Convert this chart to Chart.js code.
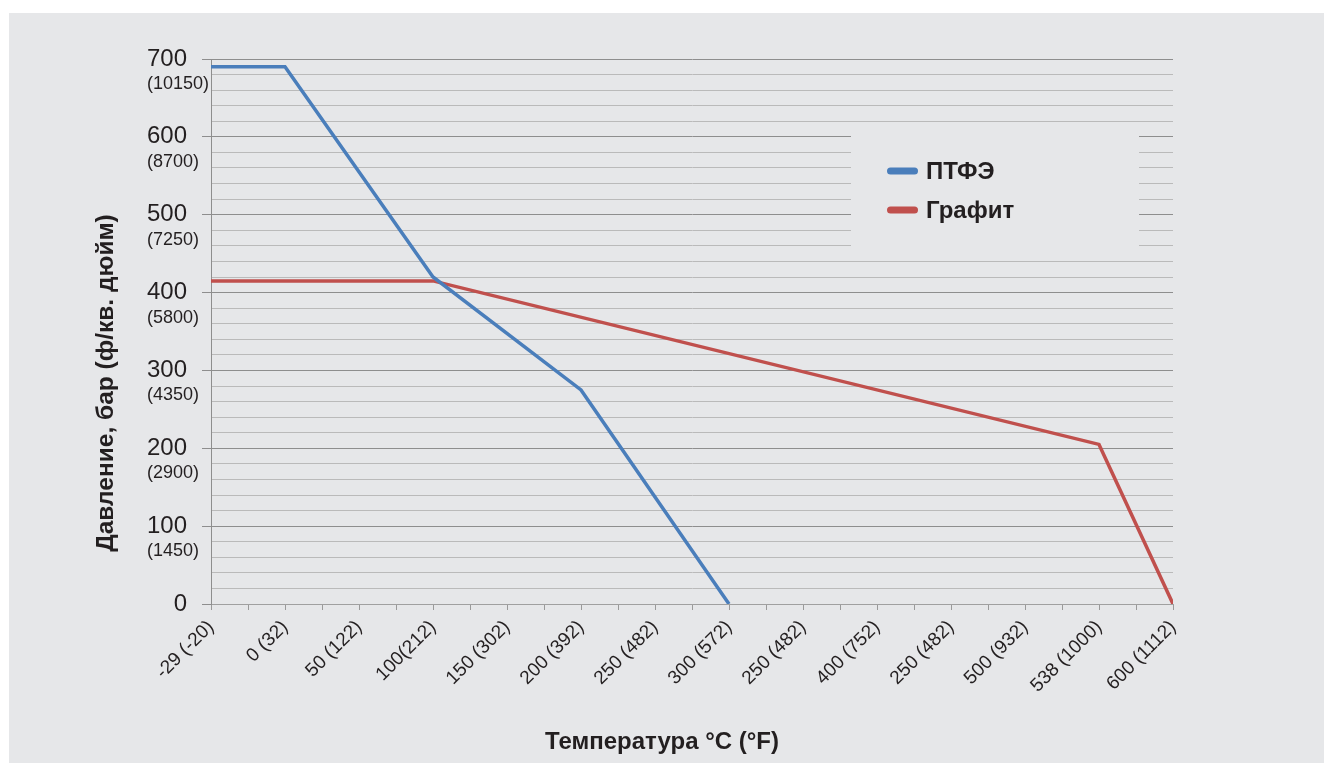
<!DOCTYPE html>
<html><head><meta charset="utf-8">
<script src="https://cdn.jsdelivr.net/npm/chart.js@4"></script>
<style>
html,body{margin:0;padding:0;background:#fff;}
#wrap{position:absolute;left:9px;top:13px;width:1315px;height:750px;background:#e6e7e9;}
canvas{display:block}
</style></head><body>
<div id="wrap"><canvas id="c" width="1315" height="750"></canvas></div>
<script>
const categories = ['-29 (-20)','0 (32)','50 (122)','100(212)','150 (302)','200 (392)','250 (482)','300 (572)','250 (482)','400 (752)','250 (482)','500 (932)','538 (1000)','600 (1112)'];
const ptfeValues = [690,690,null,420,null,275,null,0,null,null,null,null,null,null];
const graphiteValues = [415,null,null,415,null,null,null,null,null,null,null,null,205,0];
const barTickLabels = ['0','100','200','300','400','500','600','700'];
const psiTickLabels = ['','(1450)','(2900)','(4350)','(5800)','(7250)','(8700)','(10150)'];
const seriesNames = ['ПТФЭ','Графит'];
const xTitle = 'Температура °C (°F)';
const yTitle = 'Давление, бар (ф/кв. дюйм)';

const FONT = '"Liberation Sans", Arial, Helvetica, sans-serif';
const TXT = '#231f20';
const BG = '#e6e7e9';
const MAJOR = '#8e8e8e';
const MINOR = '#bababa';
Chart.defaults.font.family = FONT;
Chart.defaults.color = TXT;

const toPts = arr => arr.map((v,i)=> v===null ? null : {x:i, y:v}).filter(p => p);

const legendPlugin = {
  id: 'legendBox',
  beforeDatasetsDraw(chart){
    const {ctx, chartArea:a} = chart;
    const x0 = a.left + 640, y0 = a.top + 67;
    ctx.save();
    ctx.fillStyle = BG;
    ctx.fillRect(x0, y0, 288, 130);
    chart.data.datasets.forEach((ds,i) => {
      const cy = y0 + 45 + i*39;
      ctx.strokeStyle = ds.borderColor; ctx.lineWidth = 7; ctx.lineCap = 'round';
      ctx.beginPath(); ctx.moveTo(x0+39.5, cy); ctx.lineTo(x0+63.5, cy); ctx.stroke();
      ctx.fillStyle = TXT; ctx.font = 'bold 24px ' + FONT;
      ctx.textBaseline = 'middle'; ctx.textAlign = 'left';
      ctx.fillText(ds.label, x0+75, cy+1);
    });
    ctx.restore();
  }
};

const textPlugin = {
  id: 'extraText',
  afterDraw(chart){
    const {ctx, chartArea:a} = chart;
    const ys = chart.scales.y;
    ctx.save();
    ctx.fillStyle = TXT;
    ctx.font = '18px ' + FONT;
    ctx.textAlign = 'left'; ctx.textBaseline = 'middle';
    barTickLabels.forEach((lab,i) => {
      if (!psiTickLabels[i]) return;
      const py = ys.getPixelForValue(Number(lab));
      ctx.fillText(psiTickLabels[i], a.left - 64, py + 25);
    });
    ctx.font = 'bold 24px ' + FONT;
    ctx.textAlign = 'center';
    ctx.fillText(xTitle, 653, 729);
    ctx.translate(97, 370);
    ctx.rotate(-Math.PI/2);
    ctx.font = 'bold 24.5px ' + FONT;
    ctx.fillText(yTitle, 0, 0);
    ctx.restore();
  }
};

new Chart(document.getElementById('c'), {
  type: 'line',
  data: {
    datasets: [
      {label: seriesNames[0], data: toPts(ptfeValues), borderColor: '#4a7ebb', backgroundColor: '#4a7ebb', borderWidth: 3.5, pointRadius: 0, tension: 0, fill: false},
      {label: seriesNames[1], data: toPts(graphiteValues), borderColor: '#c0504d', backgroundColor: '#c0504d', borderWidth: 3.5, pointRadius: 0, tension: 0, fill: false}
    ]
  },
  options: {
    responsive: false,
    animation: false,
    devicePixelRatio: 1,
    layout: {padding: {left: 0, right: 151, top: 46, bottom: 0}},
    plugins: {legend: {display: false}, tooltip: {enabled: false}},
    scales: {
      x: {
        type: 'linear', min: 0, max: categories.length - 1,
        ticks: {
          stepSize: 0.5, autoSkip: false, maxRotation: 45, minRotation: 45,
          font: {size: 19}, color: TXT, padding: 6,
          callback: v => Number.isInteger(v) ? categories[v] : ''
        },
        grid: {drawOnChartArea: false, drawTicks: true, tickLength: 6, color: '#9a9a9a', tickColor: '#9a9a9a'},
        border: {color: '#a0a0a0', width: 1},
        afterFit: s => { s.height = 159; }
      },
      y: {
        min: 0, max: 700,
        ticks: {
          stepSize: 20, autoSkip: false, padding: 15, font: {size: 24}, color: TXT,
          callback: v => (v % 100 === 0) ? String(v) : ''
        },
        grid: {
          color: c => (c.tick && c.tick.value % 100 === 0) ? MAJOR : MINOR,
          tickColor: c => (c.tick && c.tick.value % 100 === 0) ? MAJOR : 'rgba(0,0,0,0)',
          tickLength: 9, lineWidth: 1
        },
        border: {color: MAJOR, width: 1},
        afterFit: s => { s.width = 202; }
      }
    }
  },
  plugins: [legendPlugin, textPlugin]
});
</script>
</body></html>
